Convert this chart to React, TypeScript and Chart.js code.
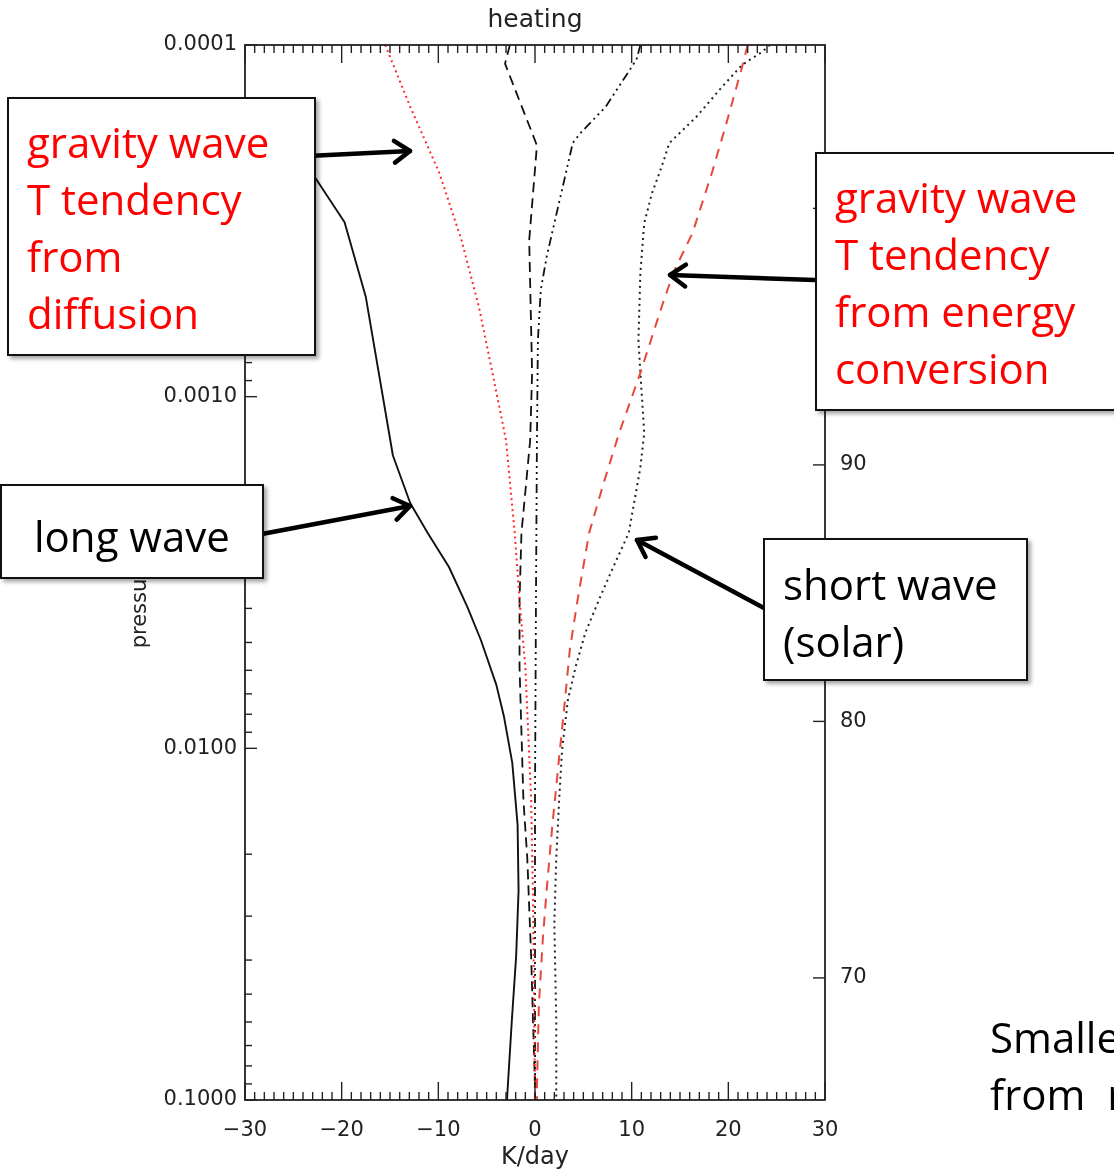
import React, { useEffect, useRef } from 'react';
import { Chart, registerables } from 'chart.js';

Chart.register(...registerables);

// ---- axes ----
const X_MIN = -30;
const X_MAX = 30;
const X_TICKS = [-30, -20, -10, 0, 10, 20, 30];
const P_MIN = 0.0001;
const P_MAX = 0.1;
const P_TICKS = [0.0001, 0.001, 0.01, 0.1];
const ALT_MIN = 65.24;
const ALT_MAX = 106.37;
const ALT_TICKS = [70, 80, 90, 100];

// ---- series (pressure hPa, heating K/day) ----
// long wave (solid)
const LW_P = [1.0e-4, 2.37e-4, 3.19e-4, 5.21e-4, 1.47e-3, 2.01e-3, 2.44e-3, 3.05e-3, 3.96e-3, 4.92e-3, 6.6e-3, 8.15e-3, 1.1e-2, 1.65e-2, 2.54e-2, 3.9e-2, 5.96e-2, 0.1];
const LW_V = [-35, -22.8, -19.7, -17.5, -14.7, -12.9, -11.1, -8.9, -7.0, -5.6, -4.0, -3.2, -2.35, -1.8, -1.7, -1.95, -2.4, -2.9];
// gravity wave T tendency from diffusion (red dotted)
const GWD_P = [1.0e-4, 1.5e-4, 2.31e-4, 3.59e-4, 5.56e-4, 8.56e-4, 1.33e-3, 2.44e-3, 3.79e-3, 5.87e-3, 9.05e-3, 1.4e-2, 2.7e-2, 5.2e-2, 0.1];
const GWD_V = [-15.5, -12.9, -9.9, -7.6, -5.8, -4.4, -3.0, -2.1, -1.6, -1.0, -0.7, -0.4, -0.2, -0.1, 0.0];
// black dashed
const BD_P = [1.0e-4, 1.13e-4, 1.93e-4, 3.59e-4, 8.56e-4, 1.33e-3, 2.44e-3, 3.79e-3, 5.87e-3, 9.05e-3, 1.4e-2, 2.05e-2, 3.9e-2, 9.18e-2, 0.1];
const BD_V = [-2.6, -3.1, 0.2, -0.6, -0.3, -0.5, -1.4, -1.6, -1.6, -1.4, -1.2, -0.8, -0.4, 0.0, 0.0];
// black dash-dot-dot-dot
const DD_P = [1.0e-4, 1.1e-4, 1.26e-4, 1.5e-4, 1.78e-4, 1.9e-4, 2.31e-4, 3.21e-4, 4.01e-4, 4.97e-4, 6.9e-4, 1.33e-3, 3.79e-3, 1.4e-2, 0.1];
const DD_V = [10.9, 10.5, 9.1, 7.3, 4.7, 3.9, 3.2, 2.0, 1.2, 0.6, 0.3, 0.2, 0.1, 0.0, 0.0];
// gravity wave T tendency from energy conversion (red dashed)
const GWE_P = [1.0e-4, 1.16e-4, 1.67e-4, 2.31e-4, 3.42e-4, 4.45e-4, 5.56e-4, 8.56e-4, 1.27e-3, 1.76e-3, 2.44e-3, 3.79e-3, 5.25e-3, 7.29e-3, 1.13e-2, 1.65e-2, 2.54e-2, 3.51e-2, 5.37e-2, 9.18e-2, 0.1];
const GWE_V = [22.0, 21.4, 19.8, 18.3, 16.3, 14.3, 13.1, 10.9, 8.7, 7.1, 5.6, 4.4, 3.6, 3.1, 2.4, 1.8, 1.2, 0.8, 0.4, 0.2, 0.2];
// short wave (solar) (black dotted)
const SW_P = [1.0e-4, 1.05e-4, 1.14e-4, 1.34e-4, 1.6e-4, 1.9e-4, 2.22e-4, 2.64e-4, 3.21e-4, 4.45e-4, 6.9e-4, 8.56e-4, 1.27e-3, 1.59e-3, 1.97e-3, 2.44e-3, 3.05e-3, 3.79e-3, 4.7e-3, 5.87e-3, 7.29e-3, 1.01e-2, 1.4e-2, 2.05e-2, 3.14e-2, 5.96e-2, 0.1];
const SW_V = [24.3, 23.4, 21.4, 19.1, 16.7, 13.9, 13.1, 12.1, 11.3, 10.9, 10.7, 10.9, 11.3, 10.9, 10.3, 9.7, 8.1, 6.6, 5.2, 4.2, 3.4, 2.8, 2.5, 2.2, 2.0, 2.2, 2.2];

const AXIS_FONT = 'DejaVu Sans';
const INK = '#222';

const pts = (P: number[], V: number[]) => P.map((p, i) => ({ x: V[i], y: p }));
const fmtX = (v: number) => (v < 0 ? '\u2212' + Math.abs(v) : String(v));

const idlFrame = {
  id: 'idlFrame',
  afterDatasetsDraw(chart: any) {
    const { ctx, chartArea } = chart;
    const { left, right, top, bottom } = chartArea;
    const xs = chart.scales.x;
    const ys = chart.scales.y;
    const y2 = chart.scales.y2;
    ctx.save();
    ctx.strokeStyle = INK;
    ctx.lineWidth = 1.8;
    const seg = (a: number, b: number, c: number, d: number) => {
      ctx.beginPath();
      ctx.moveTo(a, b);
      ctx.lineTo(c, d);
      ctx.stroke();
    };
    ctx.strokeRect(left, top, right - left, bottom - top);
    ctx.lineWidth = 1.4;
    for (let v = X_MIN; v <= X_MAX; v += 1) {
      const px = xs.getPixelForValue(v);
      const len = v % 10 === 0 ? 18 : 8;
      seg(px, bottom, px, bottom - len);
      seg(px, top, px, top + len);
    }
    for (let d = -4; d <= -1; d++) {
      for (let m = 1; m <= 9; m++) {
        const val = m * Math.pow(10, d);
        if (val > P_MAX * 1.0001) break;
        const py = ys.getPixelForValue(val);
        seg(left, py, left + (m === 1 ? 12 : 7), py);
      }
    }
    for (const a of ALT_TICKS) {
      const py = y2.getPixelForValue(a);
      seg(right, py, right - 12, py);
    }
    ctx.restore();
  },
};

const boxBase: React.CSSProperties = {
  position: 'absolute',
  boxSizing: 'border-box',
  border: '2px solid #111',
  background: '#fff',
  boxShadow: '3px 3px 4px rgba(0,0,0,0.35)',
  fontFamily: "'Open Sans', sans-serif",
  fontSize: 42,
  lineHeight: '57px',
  whiteSpace: 'pre',
};

type Arrow = { x1: number; y1: number; x2: number; y2: number };
const ARROWS: Arrow[] = [
  { x1: 308, y1: 156, x2: 410, y2: 151 },
  { x1: 815, y1: 280, x2: 670, y2: 275 },
  { x1: 262, y1: 534, x2: 410, y2: 506 },
  { x1: 764, y1: 608, x2: 637, y2: 540 },
];

function arrowHead(a: Arrow) {
  const ang = Math.atan2(a.y2 - a.y1, a.x2 - a.x1);
  const L = 19;
  const s = (35 * Math.PI) / 180;
  const p1 = [a.x2 - L * Math.cos(ang - s), a.y2 - L * Math.sin(ang - s)];
  const p2 = [a.x2 - L * Math.cos(ang + s), a.y2 - L * Math.sin(ang + s)];
  return `${p1[0]},${p1[1]} ${a.x2},${a.y2} ${p2[0]},${p2[1]}`;
}

export default function App() {
  const ref = useRef<HTMLCanvasElement>(null);

  useEffect(() => {
    if (!ref.current) return;
    const common = { pointRadius: 0, fill: false, tension: 0, xAxisID: 'x', yAxisID: 'y', borderJoinStyle: 'round' as const };
    const chart = new Chart(ref.current, {
      type: 'line',
      data: {
        datasets: [
          { ...common, label: 'long wave', data: pts(LW_P, LW_V), borderColor: '#111', borderWidth: 1.9 },
          { ...common, label: 'gw diffusion', data: pts(GWD_P, GWD_V), borderColor: '#ff2a2a', borderWidth: 2, borderDash: [2, 3.5] },
          { ...common, label: 'dashed', data: pts(BD_P, BD_V), borderColor: '#111', borderWidth: 1.8, borderDash: [10, 6] },
          { ...common, label: 'dash-dot', data: pts(DD_P, DD_V), borderColor: '#111', borderWidth: 1.8, borderDash: [9, 4, 2, 4, 2, 4, 2, 4] },
          { ...common, label: 'gw energy conversion', data: pts(GWE_P, GWE_V), borderColor: '#e8473c', borderWidth: 2, borderDash: [10, 8] },
          { ...common, label: 'short wave', data: pts(SW_P, SW_V), borderColor: '#222', borderWidth: 2, borderDash: [2, 4] },
        ],
      },
      options: {
        indexAxis: 'y',
        animation: false,
        responsive: false,
        layout: { padding: 0 },
        plugins: { legend: { display: false }, tooltip: { enabled: false }, title: { display: false } },
        scales: {
          x: {
            type: 'linear',
            position: 'bottom',
            min: X_MIN,
            max: X_MAX,
            afterBuildTicks: (s: any) => { s.ticks = X_TICKS.map((v) => ({ value: v })); },
            afterFit: (s: any) => { s.height = 69; },
            grid: { display: false, drawTicks: false },
            border: { display: false },
            ticks: { padding: 18, autoSkip: false, maxRotation: 0, color: INK, font: { family: AXIS_FONT, size: 21 }, callback: (v: any) => fmtX(Number(v)) },
            title: { display: true, text: 'K/day', color: INK, font: { family: AXIS_FONT, size: 24 }, padding: { top: 0, bottom: -3 } },
          },
          x2: {
            type: 'linear',
            position: 'top',
            min: X_MIN,
            max: X_MAX,
            afterFit: (s: any) => { s.height = 45; },
            grid: { display: false, drawTicks: false },
            border: { display: false },
            ticks: { display: false },
            title: { display: true, text: 'heating', color: INK, font: { family: AXIS_FONT, size: 25 }, padding: { top: 5, bottom: 0 } },
          },
          y: {
            type: 'logarithmic',
            position: 'left',
            reverse: true,
            min: P_MIN,
            max: P_MAX,
            afterBuildTicks: (s: any) => { s.ticks = P_TICKS.map((v) => ({ value: v })); },
            afterFit: (s: any) => { s.width = 245; },
            grid: { display: false, drawTicks: false },
            border: { display: false },
            ticks: { padding: 8, autoSkip: false, color: INK, font: { family: AXIS_FONT, size: 21 }, callback: (v: any) => Number(v).toFixed(4) },
            title: { display: true, text: 'pressure (hPa)', color: INK, font: { family: AXIS_FONT, size: 21 }, padding: { top: 128, bottom: 0 } },
          },
          y2: {
            type: 'linear',
            position: 'right',
            min: ALT_MIN,
            max: ALT_MAX,
            afterBuildTicks: (s: any) => { s.ticks = ALT_TICKS.map((v) => ({ value: v })); },
            afterFit: (s: any) => { s.width = 289; },
            grid: { display: false, drawTicks: false },
            border: { display: false },
            ticks: { padding: 15, autoSkip: false, color: INK, font: { family: AXIS_FONT, size: 21 } },
          },
        },
      },
      plugins: [idlFrame],
    } as any);
    return () => chart.destroy();
  }, []);

  return (
    <div style={{ position: 'fixed', left: 0, top: 0, width: 1114, height: 1169, overflow: 'hidden', background: '#fff' }}>
      <canvas ref={ref} width={1114} height={1169} style={{ position: 'absolute', left: 0, top: 0 }} />
      <svg width={1114} height={1169} style={{ position: 'absolute', left: 0, top: 0 }}>
        {ARROWS.map((a, i) => (
          <g key={i} stroke="#000" strokeWidth={4.5} fill="none" strokeLinecap="round" strokeLinejoin="round">
            <line x1={a.x1} y1={a.y1} x2={a.x2} y2={a.y2} />
            <polyline points={arrowHead(a)} />
          </g>
        ))}
      </svg>
      <div style={{ ...boxBase, left: 7, top: 97, width: 309, height: 259, color: '#ff0000', padding: '14px 0 0 18px' }}>
        {'gravity wave\nT tendency\nfrom\ndiffusion'}
      </div>
      <div style={{ ...boxBase, left: 815, top: 152, width: 340, height: 259, color: '#ff0000', padding: '14px 0 0 18px' }}>
        {'gravity wave\nT tendency\nfrom energy\nconversion'}
      </div>
      <div style={{ ...boxBase, left: 0, top: 484, width: 264, height: 95, color: '#000', padding: '21px 0 0 32px' }}>
        {'long wave'}
      </div>
      <div style={{ ...boxBase, left: 763, top: 538, width: 265, height: 143, color: '#000', padding: '15px 0 0 18px' }}>
        {'short wave\n(solar)'}
      </div>
      <div style={{ position: 'absolute', left: 990, top: 1008, fontFamily: "'Open Sans', sans-serif", fontSize: 42, lineHeight: '57px', whiteSpace: 'pre', color: '#000' }}>
        {'Smaller\nfrom  r'}
      </div>
    </div>
  );
}
